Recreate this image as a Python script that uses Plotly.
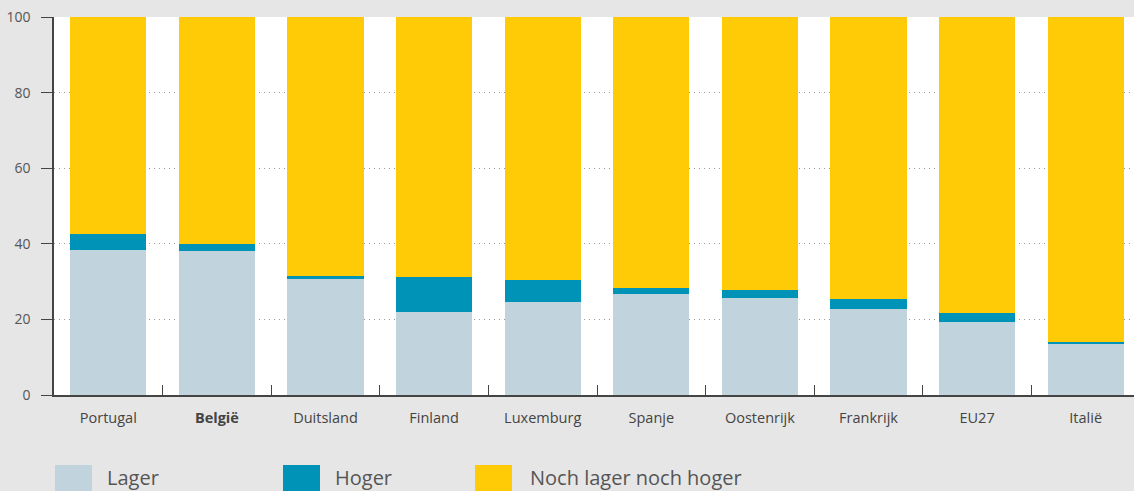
import plotly.graph_objects as go

# values (percent)
landen = ["Portugal", "België", "Duitsland", "Finland", "Luxemburg",
          "Spanje", "Oostenrijk", "Frankrijk", "EU27", "Italië"]
lager = [38.3, 38.0, 30.7, 21.9, 24.7, 26.8, 25.7, 22.8, 19.2, 13.5]
hoger = [4.3, 1.9, 0.7, 9.2, 5.7, 1.6, 2.0, 2.6, 2.4, 0.6]
noch = [57.4, 60.1, 68.6, 68.9, 69.6, 71.6, 72.3, 74.6, 78.4, 85.9]
tick_labels = ["Portugal", "<b>België</b>", "Duitsland", "Finland", "Luxemburg",
               "Spanje", "Oostenrijk", "Frankrijk", "EU27", "Italië"]

series = [("Lager", lager, "#c1d3dc"),
          ("Hoger", hoger, "#0093b8"),
          ("Noch lager noch hoger", noch, "#fecb06")]

# the plot area runs a few px past the right edge of the window
W, H = 1140, 491
L, R, T, B = 54, 0, 17, 96
pw, ph = W - L - R, H - T - B

def px_x(p):
    return (p - L) / pw

def px_y(p):
    return (H - B - p) / ph

fig = go.Figure()
for name, vals, col in series:
    fig.add_trace(go.Bar(x=landen, y=vals, name=name, marker_color=col,
                         marker_line_width=0, showlegend=False))

# legend drawn by hand: big squares along the bottom
legend_pos = [(55, 105), (283, 333), (475, 528)]
for (name, vals, col), (sx, tx) in zip(series, legend_pos):
    fig.add_shape(type="rect", xref="paper", yref="paper",
                  x0=px_x(sx), x1=px_x(sx + 37), y0=px_y(465), y1=px_y(500),
                  fillcolor=col, line_width=0, layer="above")
    fig.add_annotation(text=name, xref="paper", yref="paper",
                       x=px_x(tx), y=px_y(477), xanchor="left", yanchor="middle",
                       showarrow=False, font=dict(size=20, color="#555555"))

fig.update_layout(
    width=W, height=H,
    barmode="stack", bargap=0.3,
    margin=dict(l=L, r=R, t=T, b=B),
    paper_bgcolor="#e6e6e6", plot_bgcolor="#ffffff",
    font=dict(family="Open Sans, Noto Sans, sans-serif", color="#444444"),
)
fig.update_xaxes(
    tickmode="array", tickvals=landen, ticktext=tick_labels,
    tickson="boundaries", ticks="inside", ticklen=10, tickcolor="#444444",
    showline=True, linecolor="#444444", linewidth=1.5,
    showgrid=False, tickfont=dict(size=14.5, color="#444444"),
    ticklabelstandoff=9, range=[-0.5, 9.5],
)
fig.update_yaxes(
    range=[0, 100], tickvals=[0, 20, 40, 60, 80, 100],
    ticks="outside", ticklen=11, tickcolor="#444444",
    showline=True, linecolor="#444444", linewidth=1.5,
    showgrid=True, gridcolor="#999999", griddash="1px,4px", gridwidth=1,
    zeroline=False, tickfont=dict(size=14, color="#555555"),
    ticklabelstandoff=8,
)

# page margin off so the figure sits at the window's corner
fig.write_html("out.html", config={"displayModeBar": False}, post_script=(
    "document.body.style.margin='0';"
    "document.body.style.overflow='hidden';"
    "document.body.style.background='#e6e6e6';"))
